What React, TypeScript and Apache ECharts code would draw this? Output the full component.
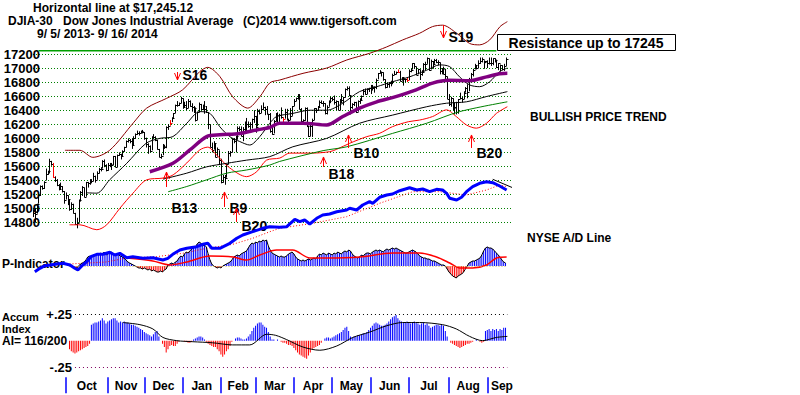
import React, { useEffect, useRef } from "react";
import * as echarts from "echarts";

const FONT = "'Liberation Sans', Arial, Helvetica, sans-serif";

// ---- x axis (trading-day index, 0 = 9/5/2013) ----
const monthNames = ["Oct", "Nov", "Dec", "Jan", "Feb", "Mar", "Apr", "May", "Jun", "Jul", "Aug", "Sep"];
const monthStarts = [18, 41, 61, 82, 103, 122, 143, 164, 185, 206, 228, 249];
const monthLabelPos = [29.5, 51, 71.5, 92.5, 112.5, 132.5, 153.5, 174.5, 195.5, 217, 238.5, 257];

// ---- price bars ----
const priceLow = [
  14880, 14800, 14930, 15070, 15180, 15270, 15280, 15400, 15480, 15500,
  15610, 15440, 15380, 15320, 15260, 15270, 15230, 15070, 15130, 15050,
  14970, 14980, 14930, 14770, 14720, 14800, 15100, 15180, 15160, 15170,
  15300, 15340, 15360, 15390, 15370, 15410, 15500, 15530, 15570, 15590,
  15530, 15540, 15590, 15550, 15620, 15590, 15590, 15750, 15700, 15740,
  15810, 15870, 15940, 15930, 15850, 15900, 16000, 16050, 16040, 16070,
  16070, 15980, 15870, 15780, 15800, 15830, 16000, 15960, 15840, 15730,
  15710, 15760, 15850, 15860, 16120, 16180, 16230, 16290, 16360, 16450,
  16460, 16500, 16420, 16440, 16400, 16430, 16450, 16380, 16360, 16240,
  16260, 16370, 16400, 16400, 16350, 16360, 16130, 15870, 15800, 15840,
  15730, 15740, 15620, 15360, 15370, 15340, 15440, 15630, 15740, 15800,
  15930, 15800, 15980, 16100, 16030, 15960, 16100, 16100, 16150, 16110,
  16140, 16220, 16080, 16170, 16340, 16360, 16400, 16330, 16340, 16260,
  16080, 16050, 16070, 16240, 16190, 16230, 16280, 16190, 16280, 16260,
  16190, 16260, 16320, 16460, 16530, 16550, 16410, 16230, 16220, 16250,
  16160, 16020, 16030, 16020, 16260, 16360, 16400, 16440, 16490, 16450,
  16340, 16340, 16450, 16500, 16530, 16480, 16400, 16400, 16400, 16500,
  16470, 16580, 16680, 16600, 16340, 16420, 16460, 16360, 16380, 16490,
  16540, 16610, 16620, 16630, 16660, 16630, 16680, 16650, 16700, 16840,
  16920, 16880, 16820, 16710, 16720, 16720, 16740, 16770, 16900, 16910,
  16930, 16810, 16820, 16750, 16800, 16800, 16830, 16940, 16980, 16990,
  16900, 16910, 16830, 16890, 16950, 16970, 17060, 16960, 16980, 16990,
  17060, 17070, 17040, 16910, 16910, 16910, 16820, 16560, 16460, 16450,
  16400, 16340, 16340, 16350, 16560, 16510, 16560, 16650, 16570, 16670,
  16840, 16880, 16980, 16980, 17000, 17060, 17080, 16990, 17070, 17000,
  17050, 17030, 17040, 17080, 17000, 16970, 16950, 16970, 16960, 17030,
];
const priceHigh = [
  14990, 15010, 15070, 15200, 15330, 15330, 15390, 15570, 15540, 15710,
  15680, 15650, 15460, 15420, 15350, 15370, 15320, 15250, 15230, 15190,
  15130, 15090, 15070, 14940, 14870, 15130, 15250, 15320, 15300, 15380,
  15380, 15420, 15420, 15510, 15470, 15530, 15580, 15590, 15690, 15700,
  15630, 15650, 15650, 15650, 15750, 15750, 15770, 15800, 15780, 15830,
  15880, 15970, 16000, 15990, 16000, 16030, 16070, 16110, 16100, 16110,
  16120, 16090, 16010, 15930, 15900, 16030, 16060, 16030, 15980, 15850,
  15780, 15920, 15910, 16170, 16200, 16260, 16300, 16360, 16480, 16530,
  16510, 16590, 16570, 16520, 16530, 16560, 16540, 16500, 16460, 16440,
  16380, 16510, 16490, 16480, 16530, 16460, 16370, 16190, 15940, 15960,
  15930, 15870, 15830, 15710, 15480, 15480, 15640, 15820, 15820, 16000,
  16000, 16040, 16170, 16170, 16170, 16160, 16240, 16290, 16240, 16230,
  16280, 16400, 16320, 16420, 16410, 16470, 16510, 16450, 16460, 16350,
  16360, 16160, 16260, 16360, 16370, 16350, 16440, 16300, 16420, 16420,
  16280, 16430, 16460, 16560, 16580, 16630, 16630, 16430, 16270, 16440,
  16440, 16180, 16190, 16280, 16430, 16430, 16460, 16540, 16540, 16530,
  16500, 16470, 16540, 16590, 16590, 16610, 16540, 16530, 16560, 16630,
  16590, 16710, 16740, 16740, 16610, 16500, 16520, 16520, 16540, 16570,
  16610, 16700, 16710, 16710, 16720, 16760, 16760, 16740, 16850, 16930,
  16970, 16950, 16940, 16840, 16790, 16800, 16820, 16920, 16960, 16950,
  16980, 16960, 16870, 16860, 16850, 16860, 16980, 16990, 17070, 17070,
  17020, 16990, 16980, 16970, 17070, 17090, 17150, 17140, 17120, 17100,
  17130, 17130, 17110, 17080, 17000, 17020, 16990, 16880, 16630, 16590,
  16570, 16510, 16520, 16560, 16650, 16590, 16670, 16730, 16770, 16860,
  16930, 16990, 17060, 17040, 17110, 17150, 17150, 17110, 17100, 17110,
  17150, 17150, 17140, 17140, 17120, 17070, 17050, 17040, 17060, 17150,
];
const priceClose = [
  14937, 14922, 15063, 15191, 15326, 15300, 15376, 15494, 15529, 15676,
  15636, 15451, 15401, 15334, 15273, 15328, 15258, 15129, 15191, 15133,
  14996, 15072, 14936, 14776, 14802, 15126, 15237, 15301, 15168, 15373,
  15371, 15399, 15392, 15467, 15413, 15509, 15570, 15568, 15680, 15618,
  15546, 15615, 15639, 15618, 15746, 15594, 15762, 15783, 15751, 15822,
  15876, 15962, 15976, 15967, 15900, 16010, 16065, 16073, 16073, 16098,
  16086, 16008, 15915, 15889, 15821, 16020, 16025, 15973, 15844, 15740,
  15755, 15885, 15875, 16168, 16179, 16221, 16294, 16358, 16479, 16478,
  16505, 16577, 16441, 16470, 16426, 16531, 16463, 16445, 16437, 16258,
  16374, 16482, 16418, 16459, 16415, 16374, 16198, 15880, 15838, 15929,
  15739, 15849, 15699, 15373, 15445, 15441, 15628, 15795, 15802, 15994,
  15964, 16027, 16154, 16130, 16040, 16133, 16104, 16208, 16180, 16198,
  16273, 16322, 16168, 16396, 16361, 16421, 16453, 16419, 16351, 16341,
  16109, 16066, 16247, 16337, 16223, 16331, 16303, 16277, 16368, 16268,
  16264, 16323, 16458, 16533, 16573, 16572, 16413, 16246, 16256, 16437,
  16171, 16027, 16174, 16263, 16425, 16409, 16449, 16514, 16502, 16501,
  16361, 16448, 16535, 16581, 16559, 16513, 16531, 16401, 16518, 16551,
  16583, 16695, 16715, 16613, 16447, 16491, 16511, 16374, 16533, 16543,
  16606, 16676, 16633, 16698, 16717, 16744, 16722, 16737, 16836, 16924,
  16943, 16945, 16843, 16735, 16776, 16781, 16808, 16907, 16921, 16948,
  16937, 16818, 16867, 16846, 16851, 16827, 16956, 16976, 17068, 17025,
  16907, 16985, 16915, 16944, 17055, 17061, 17138, 16977, 17100, 17052,
  17114, 17087, 17083, 16961, 16983, 16913, 16880, 16563, 16493, 16570,
  16430, 16443, 16368, 16554, 16569, 16561, 16651, 16713, 16663, 16839,
  16919, 16979, 17040, 17001, 17077, 17107, 17122, 17080, 17098, 17068,
  17079, 17069, 17138, 17112, 17014, 17068, 17050, 16988, 17032, 17131,
];
const redBarDays = [11, 75, 137, 200, 205];
const resistanceLevel = 17245.12;
const resistanceSpan = [3, 254];

// ---- price-panel lines: [day, value] ----
const upperBand = [
  [17.5, 15830], [25.7, 15830], [32.8, 15730], [42, 15830], [55, 16220], [62.3, 16430], [73.3, 16570],
  [82, 16690], [91.4, 16950], [95.8, 17010], [102.4, 16880], [109.5, 16590], [117.7, 16430], [124.3, 16590],
  [129.8, 16790], [135.3, 16830], [148, 16925], [161, 17000], [172, 17115], [184.5, 17210], [193.8, 17300],
  [202.6, 17400], [211.9, 17495], [219, 17590], [224.5, 17610], [232, 17500], [239.3, 17350], [244.8, 17330],
  [250.3, 17400], [256, 17590], [260, 17660],
];
const lowerBand = [
  [20, 14770], [25.7, 14770], [35, 14700], [40.4, 14770], [47.6, 15005], [54.8, 15220], [62.3, 15410],
  [71.3, 15435], [76.8, 15480], [84.3, 15650], [91.4, 15835], [95.8, 15875], [100.6, 15765], [107.8, 15580],
  [117.1, 15455], [122.6, 15525], [128, 15690], [135.3, 15720], [140.7, 15790], [153, 15790], [162.6, 15810],
  [166.5, 15845], [173.6, 15930], [182.9, 16024], [190, 16072], [197, 16166], [205.8, 16237], [211.9, 16260],
  [219, 16310], [226.7, 16405], [232, 16310], [237.6, 16190], [243, 16145], [248.6, 16215], [254, 16355],
  [260, 16450],
];
const shortMA = [
  [29.6, 15225], [35, 15220], [42, 15410], [51.4, 15645], [62, 15930], [69.5, 16000], [76.7, 16025],
  [84.3, 16215], [91.4, 16380], [97, 16355], [102.4, 16165], [107.8, 16025], [113.3, 15955], [118.8, 15905],
  [124.3, 16025], [129.8, 16215], [133.5, 16310], [142.4, 16355], [151.7, 16400], [161, 16400], [169.8, 16500],
  [179, 16665], [188.4, 16735], [197, 16805], [206.4, 16875], [215.8, 16970], [222.9, 17045], [228.4, 17020],
  [233.8, 16875], [239.3, 16760], [244.8, 16735], [250.3, 16805], [255.8, 16950], [260, 17000],
];
const purpleMA = [
  [64, 15525], [76.7, 15645], [86, 15835], [95.2, 16025], [102.4, 16050], [113.3, 16070], [122.6, 16120],
  [129.8, 16155], [135, 16215], [148, 16215], [161, 16190], [169.8, 16310], [179, 16430], [188.4, 16520],
  [197, 16580], [210, 16690], [219, 16785], [228, 16825], [239.3, 16820], [248.6, 16875], [255.8, 16920],
  [260, 16925],
];
const longMA = [
  [71.3, 15420], [84.3, 15505], [95.2, 15595], [106.2, 15645], [117.1, 15690], [129.8, 15740], [142.4, 15880],
  [161, 16000], [179, 16215], [197, 16330], [215.8, 16450], [226.7, 16500], [237.6, 16520], [248.6, 16595],
  [260, 16665],
];
const greenMA = [
  [74, 15240], [84.3, 15315], [95.2, 15410], [106.2, 15505], [117.1, 15550], [129.8, 15620], [135, 15670],
  [159, 15825], [172, 15880], [197, 16070], [215.8, 16215], [233.8, 16380], [260, 16520],
];

// ---- signals ----
const signalNames = ["S16", "S19", "B13", "B9", "B20", "B18", "B10", "B20"];
const signalDay = [79, 224.5, 72.8, 104.6, 111.1, 158.8, 172.5, 239.9];
const signalHead = [16830, 17428, 15521, 15237, 15009, 15735, 16048, 16048];
const signalTail = [16944, 17613, 15308, 15024, 14810, 15593, 15863, 15863];
const signalLabelAt = [16901, 17442, 15009, 15009, 14753, 15493, 15792, 15792];

// ---- NYSE A/D line (relative units) ----
const adLine = [
  [1, 8.3], [3.8, 11.7], [6.5, 14.3], [9.3, 15], [13.1, 16], [16.4, 16.7], [20.2, 15], [22.9, 11.7], [24.6, 10],
  [27.3, 15], [29.5, 18.3], [31.7, 23.3], [35, 25.7], [38.3, 25.7], [42.1, 27.7], [44.9, 25], [47.6, 26.7],
  [51.4, 22.3], [54.7, 23.3], [60.2, 21.7], [65.7, 22.3], [71.2, 20], [73.9, 21.7], [76.6, 25.7], [80.5, 30],
  [84.3, 31.7], [89.8, 33.3], [93.1, 35.7], [95.8, 36.7], [98, 31.7], [102.4, 31.7], [107.9, 36.7], [111.7, 41.7],
  [115, 45], [120.4, 48.3], [125.9, 51.7], [129.8, 53.3], [135.2, 52.7], [139.1, 53.3], [143.5, 60.7],
  [146.2, 58.3], [148.9, 60], [151.7, 56], [155.5, 61.7], [158.8, 65], [162.6, 66], [166.5, 68.3], [171.9, 70],
  [173.6, 71.7], [177.4, 70], [180.7, 75], [184.5, 78.3], [186.2, 76.7], [190, 82.7], [193.9, 85], [197.1, 86],
  [201, 89.3], [206.4, 92.3], [210.3, 90], [213.6, 91], [217.4, 88.3], [221.2, 90.7], [224.5, 90], [226.7, 86.7],
  [228.4, 81.7], [232.2, 80], [234.9, 82.7], [237.6, 88.3], [241, 93.3], [244.8, 96.7], [248.6, 98.3],
  [252, 97.3], [255.8, 94], [259.6, 90],
];
const adMA = [
  [20, 16], [40, 18], [51.4, 22], [67.5, 23.3], [82.1, 26.7], [95.2, 31.7], [109.5, 35.7], [120.4, 41.7],
  [129.8, 48.3], [135.2, 51.7], [153.3, 56.7], [171.9, 63.3], [190, 76.7], [208.1, 88.3], [223, 88.3],
  [237.6, 85], [248.6, 90], [255.8, 95], [259.6, 93.3],
];
const adTrend = [[252, 100.7], [271, 86]];

// ---- P-Indicator (daily from day 20) ----
const pStart = 20;
const pIndicator = [
  0, 1, -1, -2, -2, 0, 2, 3, 4, 6,
  9, 10, 8, 11, 10, 12, 11, 13, 12, 14,
  11, 12, 13, 14, 12, 11, 13, 11, 10, 9,
  8, 6, 4, 3, 2, 1, 0, -1, -2, -2,
  -3, -2, -3, -4, -3, -5, -4, -5, -6, -6,
  -5, -6, -4, -3, 1, 2, 3, 2, 4, 5,
  8, 10, 9, 12, 14, 13, 15, 17, 18, 19,
  22, 24, 23, 20, 21, 19, 12, 6, 2, 0,
  -1, -2, -1, -2, 0, 1, 2, 3, 4, 6,
  9, 10, 11, 10, 12, 13, 14, 15, 18, 21,
  23, 22, 24, 23, 25, 24, 26, 25, 26, 20,
  16, 13, 12, 11, 10, 9, 10, 9, 9, 10,
  12, 13, 14, 12, 9, 7, 6, 5, 6, 5,
  6, 7, 6, 7, 8, 7, 10, 12, 11, 13,
  12, 11, 13, 12, 11, 13, 12, 14, 13, 12,
  14, 15, 14, 16, 15, 12, 10, 9, 8, 9,
  11, 10, 12, 13, 13, 12, 14, 15, 16, 15,
  16, 15, 14, 16, 17, 16, 17, 18, 17, 18,
  17, 16, 15, 14, 13, 13, 14, 15, 16, 15,
  14, 12, 10, 9, 8, 8, 7, 7, 6, 5,
  5, 4, 3, 2, 1, 1, 0, -3, -6, -8,
  -10, -11, -12, -10, -9, -8, -6, -3, 0, 3,
  4, 5, 5, 6, 7, 8, 11, 15, 18, 19,
  18, 18, 17, 15, 13, 11, 9, 6, 4, 3,
];
const pMA = [
  [51.4, 8], [65.7, 5], [75, 1], [84.3, 4], [96.9, 10], [109.7, 9], [117, 6], [124.3, 11], [133.5, 16],
  [142.4, 16], [151.7, 8], [161, 8], [179, 9], [197, 13], [211.9, 13], [221.2, 9], [228.4, 3], [233.8, -2],
  [241, -2], [248.6, 1], [254, 8], [259.6, 9],
];

// ---- Accumulation Index (hundredths, daily from day 20) ----
const aiStart = 20;
const accumIndex = [
  -8, -10, -11, -12, -11, -10, -9, -8, -7, -6, -5, -3,
  15, 16, 17, 17, 18, 19, 21, 19, 16, 18,
  19, 20, 21, 21, 19, 17, 18, 17, 18, 17,
  17, 16, 15, 15, 14, 13, 12, 11, 10, 8,
  7, 6, 5, 4, 6, 8, 9, 4, 0, -3,
  -6, -11, -8, -5, -4, -5, -5, -3, -1, 0,
  0, -1, -1, -2, -2, -1, 1, 2, 3, 4,
  4, 3, 1, -1, -3, -4, -5, -6,
  -6, -8, -10, -13, -15, -13, -10, -8, -5, -1, 0, 2,
  3, 3, 2, 1, 1, 2, 4, 6, 9, 12,
  14, 16, 17, 17, 15, 13, 12, 8, 4, 1,
  1, 0, 1, 0, -1, -2, -2, -3, -4, -4,
  -5, -7, -9, -11, -13, -14, -15, -16, -17, -14,
  -11, -8, -7, -6, -5, -4, -2, 0, 2, 3,
  3, 2, 3, 4, 5, 6, 7, 8, 10, 12,
  13, 9, 4, 3, 4, 4, 5, 5, 6, 7,
  7, 8, 10, 12, 14, 16, 17, 16, 15, 14,
  14, 15, 16, 18, 20, 22, 23, 24, 21, 19,
  18, 17, 17, 18, 17, 16, 17, 18, 17, 16,
  15, 16, 17, 15, 16, 14, 12, 13, 14, 15,
  15, 14, 15, 14, 9, 4, 0, -2, -3, -4,
  -5, -6, -7, -6, -5, -4, -3, -3, -2, -1,
  0, 1, 0, -1, -2, -1, 9, 10, 11, 9,
  11, 10, 11, 9, 11, 10, 12, 12,
];
const aiMA = [
  [49.2, 17], [58.6, 15], [65.7, 11], [71.2, 3], [78.8, 0], [87.6, -1], [98.5, -2], [109.5, -4], [118.8, -4],
  [128.1, 6], [133, 5], [139, 1], [148, -6], [157.2, -9], [166.5, -5], [175.3, 3], [184.5, 8], [193.9, 14],
  [202.6, 17], [211.9, 17], [224.5, 15], [232, 11], [239.3, 4], [246.4, 0], [254, 3], [260, 4],
];
const aiLevels = [25, -25];

function lineSeries(data: number[][], axis: number, color: string, width: number, extra: any = {}) {
  return {
    type: "line",
    xAxisIndex: axis,
    yAxisIndex: axis,
    data,
    showSymbol: false,
    symbol: "none",
    clip: false,
    silent: true,
    z: 3,
    lineStyle: { color, width },
    ...extra,
  };
}

function buildOption(): any {
  const redSet = new Set(redBarDays);
  const gridBase = { left: 33, width: 478, outerBoundsMode: "none" };
  const hiddenX = (g: number) => ({ gridIndex: g, type: "value", min: 0, max: 262, show: false });
  const txt = (text: string, x: number, y: number, size = 12, align = "left") => ({
    type: "text",
    x,
    y,
    z: 1,
    style: { text, fill: "#000", font: `bold ${size}px ${FONT}`, align, verticalAlign: "middle" },
  });

  return {
    animation: false,
    backgroundColor: "#ffffff",
    grid: [
      { ...gridBase, top: 54, height: 168.7 },
      { ...gridBase, top: 170, height: 110 },
      { ...gridBase, top: 236, height: 60 },
      { ...gridBase, top: 314, height: 53.3 },
    ],
    xAxis: [
      hiddenX(0),
      hiddenX(1),
      hiddenX(2),
      {
        gridIndex: 3,
        type: "value",
        min: 0,
        max: 262,
        position: "bottom",
        offset: 10,
        axisLine: { show: false, onZero: false },
        splitLine: { show: false },
        axisTick: {
          show: true,
          inside: false,
          customValues: monthStarts,
          length: 16,
          lineStyle: { color: "#0000ff", width: 1.5 },
        },
        axisLabel: {
          customValues: monthLabelPos,
          margin: 3,
          color: "#000",
          fontSize: 12,
          fontWeight: "bold",
          fontFamily: FONT,
          formatter: (v: number) => monthNames[monthLabelPos.indexOf(v)] ?? "",
        },
      },
    ],
    yAxis: [
      {
        gridIndex: 0,
        type: "value",
        min: 14800,
        max: 17200,
        interval: 200,
        offset: -9,
        axisLine: { show: false },
        axisTick: { show: false },
        axisLabel: {
          margin: 2,
          color: "#000",
          fontSize: 13,
          fontWeight: "bold",
          fontFamily: FONT,
          formatter: (v: number) => String(v),
        },
        splitLine: { show: true, lineStyle: { color: "#008000", type: [1, 2], width: 1 } },
      },
      { gridIndex: 1, type: "value", min: 0, max: 110, show: false },
      { gridIndex: 2, type: "value", min: -30, max: 30, show: false },
      {
        gridIndex: 3,
        type: "value",
        min: -25,
        max: 25,
        offset: -43,
        axisLine: { show: false },
        axisTick: { show: false },
        splitLine: { show: false },
        axisLabel: {
          customValues: aiLevels,
          margin: 4,
          color: "#000",
          fontSize: 13,
          fontWeight: "bold",
          fontFamily: FONT,
          formatter: (v: number) => (v > 0 ? "+.25" : "-.25"),
        },
      },
    ],
    series: [
      lineSeries(
        [[resistanceSpan[0], resistanceLevel], [resistanceSpan[1], resistanceLevel]],
        0,
        "#00a000",
        1.5
      ),
      {
        type: "custom",
        xAxisIndex: 0,
        yAxisIndex: 0,
        clip: false,
        silent: true,
        z: 2,
        data: priceLow.map((lo, i) => [i, lo, priceHigh[i], priceClose[i]]),
        encode: { x: 0, y: [1, 2] },
        renderItem: (params: any, api: any) => {
          const i = api.value(0);
          const a = api.coord([i, api.value(1)]);
          const b = api.coord([i, api.value(2)]);
          const c = api.coord([i, api.value(3)]);
          const x = Math.round(a[0]) + 0.5;
          const cy = Math.round(c[1]) + 0.5;
          const color = redSet.has(i) ? "#ff0000" : "#000000";
          return {
            type: "group",
            children: [
              { type: "line", shape: { x1: x, y1: a[1], x2: x, y2: b[1] }, style: { stroke: color, lineWidth: 1 } },
              { type: "line", shape: { x1: x, y1: cy, x2: x + 2, y2: cy }, style: { stroke: color, lineWidth: 1 } },
            ],
          };
        },
      },
      lineSeries(upperBand, 0, "#8b0000", 1, { smooth: 0.3 }),
      lineSeries(lowerBand, 0, "#ff0000", 1, { smooth: 0.3 }),
      lineSeries(shortMA, 0, "#000000", 1, { smooth: 0.3 }),
      lineSeries(longMA, 0, "#000000", 1, { smooth: 0.3 }),
      lineSeries(greenMA, 0, "#008000", 1, { smooth: 0.3 }),
      lineSeries(purpleMA, 0, "#800080", 3.5, { smooth: 0.3, z: 4 }),
      {
        type: "custom",
        xAxisIndex: 0,
        yAxisIndex: 0,
        clip: false,
        silent: true,
        z: 4,
        data: signalDay.map((d, i) => [d, signalHead[i], signalTail[i], signalLabelAt[i]]),
        encode: { x: 0, y: [1, 2, 3] },
        renderItem: (params: any, api: any) => {
          const d = api.value(0);
          const h = api.coord([d, api.value(1)]);
          const t = api.coord([d, api.value(2)]);
          const l = api.coord([d, api.value(3)]);
          const dir = t[1] > h[1] ? 1 : -1;
          const x = Math.round(h[0]) + 0.5;
          return {
            type: "group",
            children: [
              { type: "line", shape: { x1: x, y1: h[1], x2: x, y2: t[1] }, style: { stroke: "#ff0000", lineWidth: 1 } },
              {
                type: "polyline",
                shape: { points: [[x - 3, h[1] + 7 * dir], [x, h[1]], [x + 3, h[1] + 7 * dir]] },
                style: { stroke: "#ff0000", fill: null, lineWidth: 1 },
              },
              {
                type: "text",
                x: x + 5,
                y: l[1],
                style: {
                  text: signalNames[params.dataIndex],
                  fill: "#000",
                  font: `bold 14px ${FONT}`,
                  align: "left",
                  verticalAlign: "middle",
                },
              },
            ],
          };
        },
      },
      // A/D line
      lineSeries(adMA, 1, "#ff0000", 1, { lineStyle: { color: "#ff0000", width: 1, type: [1, 2] } }),
      lineSeries(adTrend, 1, "#000000", 1),
      lineSeries(adLine, 1, "#0000ff", 3, { z: 6 }),
      // P-Indicator
      {
        type: "bar",
        xAxisIndex: 2,
        yAxisIndex: 2,
        barWidth: 1,
        silent: true,
        z: 2,
        data: pIndicator.map((v, i) => [pStart + i, v]),
        itemStyle: { color: (p: any) => (p.value[1] >= 0 ? "#0000ff" : "#ff0000") },
        markLine: {
          silent: true,
          symbol: "none",
          label: { show: false },
          lineStyle: { color: "#d4c060", type: [1, 2], width: 1 },
          data: [[{ coord: [pStart, 0] }, { coord: [260, 0] }]],
        },
      },
      lineSeries(pIndicator.map((v, i) => [pStart + i, v]), 2, "#000000", 1),
      lineSeries(pMA, 2, "#ff0000", 1.5, { smooth: 0.3, z: 4 }),
      // Accum index
      {
        type: "bar",
        xAxisIndex: 3,
        yAxisIndex: 3,
        barWidth: 1,
        silent: true,
        z: 2,
        data: accumIndex.map((v, i) => [aiStart + i, v]),
        itemStyle: { color: (p: any) => (p.value[1] >= 0 ? "#0000ff" : "#ff0000") },
        markLine: {
          silent: true,
          symbol: "none",
          label: { show: false },
          data: [
            [{ coord: [23, aiLevels[0]], lineStyle: { color: "#000000", type: [1, 3], width: 1 } }, { coord: [260, aiLevels[0]] }],
            [{ coord: [23, aiLevels[1]], lineStyle: { color: "#800060", type: [1, 3], width: 1 } }, { coord: [260, aiLevels[1]] }],
          ],
        },
      },
      lineSeries(aiMA, 3, "#000000", 1, { smooth: 0.3, z: 4 }),
    ],
    graphic: [
      txt("Horizontal line at $17,245.12", 33, 7.5),
      txt("DJIA-30", 8, 21),
      txt("Dow Jones Industrial Average", 63, 21),
      txt("(C)2014 www.tigersoft.com", 243, 21),
      txt("9/ 5/ 2013- 9/ 16/ 2014", 37, 33.5),
      {
        type: "rect",
        z: 10,
        shape: { x: 497.5, y: 34.5, width: 178, height: 16 },
        style: { fill: "#ffffff", stroke: "#000000", lineWidth: 1 },
      },
      { ...txt("Resistance up to 17245", 586, 42.5, 14, "center"), z: 11 },
      txt("BULLISH PRICE TREND", 530, 117),
      txt("NYSE A/D Line", 527, 237.5),
      txt("P-Indicator", 2, 264),
      txt("Accum", 2, 316.5, 11),
      txt("Index", 2, 328.5, 11),
      txt("AI= 116/200", 2, 340.5, 12),
    ],
  };
}

export default function App() {
  const ref = useRef<HTMLDivElement>(null);
  useEffect(() => {
    if (!ref.current) return;
    const chart = echarts.init(ref.current, null, { renderer: "svg" });
    chart.setOption(buildOption());
    return () => chart.dispose();
  }, []);
  return (
    <div
      ref={ref}
      style={{ position: "fixed", left: 0, top: 0, width: 800, height: 395, background: "#fff" }}
    />
  );
}
